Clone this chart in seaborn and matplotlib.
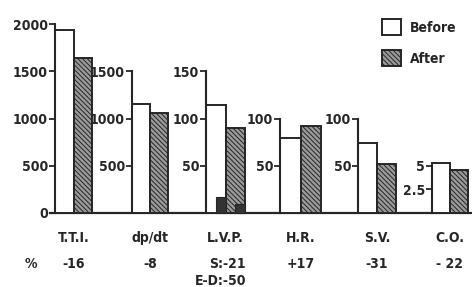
import pandas as pd
import matplotlib.pyplot as plt
import seaborn as sns
from matplotlib.patches import Patch

# values (before / after intervention)
categories = ["T.T.I.", "dp/dt", "L.V.P.", "H.R.", "S.V.", "C.O."]
before = [1940, 1150, 114, 79, 74, 5.3]
after = [1640, 1060, 90, 92, 52, 4.6]
# end-diastolic pressure, drawn inside the L.V.P. bars
lvp_ed_before = 17
lvp_ed_after = 9
pct_change = ["-16", "-8", "S:-21", "+17", "-31", "- 22"]
pct_extra = "E-D:-50"
tick_values = [[0, 500, 1000, 1500, 2000], [500, 1000, 1500], [50, 100, 150],
               [50, 100], [50, 100], [2.5, 5]]
tick_labels = [["0", "500", "1000", "1500", "2000"], ["500", "1000", "1500"],
               ["50", "100", "150"], ["50", "100"], ["50", "100"], ["2.5", "5"]]
y_max = [2000, 2000, 200, 200, 200, 20]

sns.set_style("white")
plt.rcParams["font.family"] = ["DejaVu Sans"]
plt.rcParams["font.stretch"] = "condensed"
plt.rcParams["font.weight"] = "bold"
plt.rcParams["hatch.linewidth"] = 0.7

ink = "#262626"
grey = "#9a9a9a"
hatch = "\\\\\\\\\\\\\\"

W, H = 472, 287
fig = plt.figure(figsize=(W / 100, H / 100), dpi=100)

base_y = 213
top_y = 24
bottom = (H - base_y) / H
height = (base_y - top_y) / H

# baseline running under all groups
base = fig.add_axes([50 / W, bottom, (W - 50) / W, height])
base.set_xticks([])
base.set_yticks([])
for s in ["top", "right", "left"]:
    base.spines[s].set_visible(False)
base.spines["bottom"].set_linewidth(1.6)
base.spines["bottom"].set_color(ink)
base.patch.set_alpha(0)

lefts = [55, 132, 206, 280, 358, 432]
widths = [37, 36, 39, 41, 38, 36]

for i, cat in enumerate(categories):
    ax = fig.add_axes([lefts[i] / W, bottom, widths[i] / W, height])
    ax.patch.set_alpha(0)
    df = pd.DataFrame({
        "cat": [cat, cat],
        "when": ["Before", "After"],
        "value": [before[i], after[i]],
    })
    sns.barplot(data=df, x="cat", y="value", hue="when", hue_order=["Before", "After"],
                palette=["white", grey], saturation=1, edgecolor=ink, linewidth=1.4,
                legend=False, ax=ax)
    bars = list(ax.patches)
    bars[1].set_hatch(hatch)
    for p in bars:
        p.set_clip_on(False)

    if cat == "L.V.P.":
        for p, v in zip(bars, [lvp_ed_before, lvp_ed_after]):
            ax.bar(p.get_x() + p.get_width() / 2, v, width=p.get_width() / 2,
                   align="edge", color="#333333", edgecolor=ink, linewidth=0.8,
                   clip_on=False)

    ax.set_xlim(-0.4, 0.4)
    ax.set_ylim(0, y_max[i])
    ax.set_yticks(tick_values[i])
    ax.set_yticklabels(tick_labels[i])
    ax.set_xlabel("")
    ax.set_ylabel("")
    for s in ["top", "right", "bottom"]:
        ax.spines[s].set_visible(False)
    ax.spines["left"].set_linewidth(1.5)
    ax.spines["left"].set_color(ink)
    ax.spines["left"].set_bounds(0, max(tick_values[i]))
    ax.tick_params(axis="y", left=True, direction="out", length=4, width=1.3,
                   color=ink, pad=1, labelsize=10, labelcolor=ink)
    ax.tick_params(axis="x", bottom=False, length=0, pad=13, labelsize=10,
                   labelcolor=ink)

    cx = (lefts[i] + widths[i] / 2) / W
    if cat == "L.V.P.":
        fig.text(246 / W, 1 - 264 / H, pct_change[i], ha="right", va="center",
                 fontsize=10, color=ink)
        fig.text(246 / W, 1 - 281 / H, pct_extra, ha="right", va="center",
                 fontsize=10, color=ink)
    else:
        fig.text(cx, 1 - 264 / H, pct_change[i], ha="center", va="center",
                 fontsize=10, color=ink)

fig.text(31 / W, 1 - 264 / H, "%", ha="center", va="center", fontsize=10, color=ink)

handles = [Patch(facecolor="white", edgecolor=ink, linewidth=1.4),
           Patch(facecolor=grey, edgecolor=ink, linewidth=1.4, hatch=hatch)]
fig.legend(handles, ["Before", "After"], loc="upper left",
           bbox_to_anchor=(375 / W, 1 - 12 / H), frameon=False, fontsize=10,
           handlelength=1.4, handleheight=1.4, handletextpad=0.6,
           labelspacing=1.1, borderpad=0, labelcolor=ink)

fig.savefig("out.png", dpi=100)
